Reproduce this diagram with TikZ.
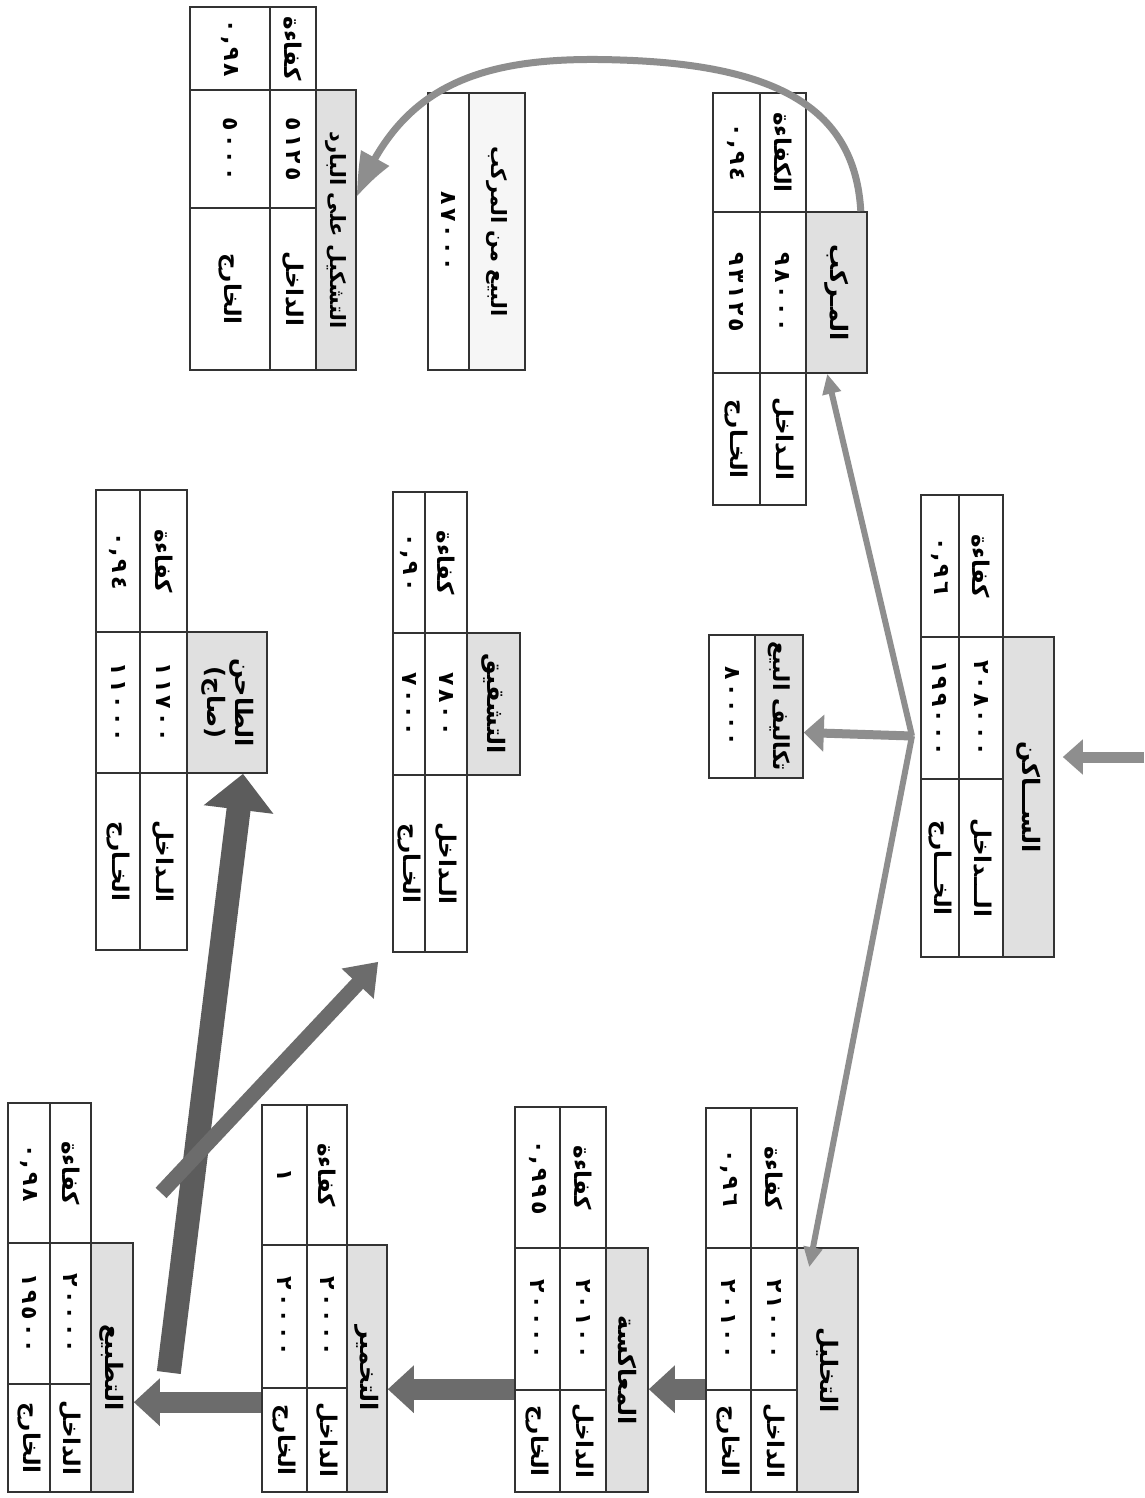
\documentclass[tikz,border=0pt]{standalone}
\usepackage{fontspec}
\usepackage{graphicx}
\usepackage{tikz}
\usetikzlibrary{arrows.meta,bending,positioning,calc,fit}
\TeXXeTstate=1
\newfontfamily\arabicfont[Script=Arabic]{DejaVu Sans}
\newfontfamily\digitfont[LetterSpace=14]{DejaVu Sans}
\definecolor{hdr}{HTML}{E0E0E0}
\definecolor{rule}{HTML}{333333}
\definecolor{pipe}{HTML}{8E8E8E}
\definecolor{pipedark}{HTML}{6C6C6C}
\definecolor{pipedeep}{HTML}{5C5C5C}
\newcommand{\ar}[1]{\arabicfont\bfseries\beginR #1\endR}
\newcommand{\nm}[1]{\digitfont\bfseries #1}
\newcommand{\cell}[7][cell]{\node[#1,fit={(#3,#4)(#5,#6)}] (#2) {\rotatebox{-90}{#7}};}
\tikzset{
  cell/.style={draw=rule,line width=1.6pt,inner sep=0pt,font=\fontsize{23}{27}\selectfont},
  val/.style={cell,font=\fontsize{22}{26}\selectfont},
  head/.style={cell,fill=hdr,font=\fontsize{24}{28}\selectfont},
  headlite/.style={head,fill=hdr!30},
  flow/.style={pipe,line width=6pt,-{Triangle[length=20pt,width=18pt]}},
  flowwide/.style={pipe,line width=9pt,-{Triangle[length=20pt,width=36pt]}},
  feed/.style={pipe,line width=11pt,-{Triangle[length=20pt,width=34pt]}},
  chain/.style={pipedark,line width=21pt,-{Triangle[length=26pt,width=46pt]}},
  thrust/.style={pipedeep,line width=24pt,-{Triangle[length=36pt,width=68pt]}},
  branch/.style={pipedark,line width=15pt,-{Triangle[length=30pt,width=42pt]}},
  loop/.style={pipe,line width=7pt,-{Triangle[length=45pt,width=30pt,bend]}}
}

\begin{document}
\begin{tikzpicture}[x=1pt,y=-1pt]
\path[use as bounding box,fill=white] (0,0) rectangle (1144,1498);

\cell[head]{saken}{1003}{637}{1054}{957}{\ar{الســـاكن}}
\cell{sakenIn}{959}{779}{1003}{957}{\ar{الـــداخل}}
\cell{sakenOut}{921}{779}{959}{957}{\ar{الخـــارج}}
\cell[val]{sakenInV}{959}{637}{1003}{779}{\nm{٢٠٨٠٠٠}}
\cell[val]{sakenOutV}{921}{637}{959}{779}{\nm{١٩٩٠٠٠}}
\cell{sakenEff}{959}{495}{1003}{637}{\ar{كفاءة}}
\cell[val]{sakenEffV}{921}{495}{959}{637}{\nm{٠,٩٦}}

\cell[head]{murakkab}{806}{212}{867}{373}{\ar{المـركب}}
\cell{murakkabIn}{760}{373}{806}{505}{\ar{الـداخل}}
\cell{murakkabOut}{713}{373}{760}{505}{\ar{الخـارج}}
\cell[val]{murakkabInV}{760}{212}{806}{373}{\nm{٩٨٠٠٠}}
\cell[val]{murakkabOutV}{713}{212}{760}{373}{\nm{٩٣١٢٥}}
\cell{murakkabEff}{760}{93}{806}{212}{\ar{الكفاءة}}
\cell[val]{murakkabEffV}{713}{93}{760}{212}{\nm{٠,٩٤}}

\cell[head,font=\fontsize{21}{25}\selectfont]{tashkeel}{316}{90}{356}{370}{\ar{التشكيل على البارد}}
\cell{tashkeelIn}{270}{208}{316}{370}{\ar{الداخل}}
\cell{tashkeelOut}{190}{208}{270}{370}{\ar{الخارج}}
\cell[val]{tashkeelInV}{270}{90}{316}{208}{\nm{٥١٢٥}}
\cell[val]{tashkeelOutV}{190}{90}{270}{208}{\nm{٥٠٠٠}}
\cell{tashkeelEff}{270}{7}{316}{90}{\ar{كفاءة}}
\cell[val]{tashkeelEffV}{190}{7}{270}{90}{\nm{٠,٩٨}}

\cell[headlite,font=\fontsize{21}{25}\selectfont]{sale}{469}{93}{525}{370}{\ar{البيع من المركب}}
\cell[val]{saleV}{428}{93}{469}{370}{\nm{٨٧٠٠٠}}

\cell[head,font=\fontsize{22}{26}\selectfont]{costs}{755}{635}{803}{778}{\ar{تكاليف البيع}}
\cell[val]{costsV}{709}{635}{755}{778}{\nm{٨٠٠٠٠}}

\cell[head]{taheen}{187}{632}{267}{773}{\begin{tabular}{@{}c@{}}\ar{الطاحن}\\\ar{(صاج)}\end{tabular}}
\cell{taheenIn}{140}{773}{187}{950}{\ar{الـداخل}}
\cell{taheenOut}{96}{773}{140}{950}{\ar{الخـارج}}
\cell[val]{taheenInV}{140}{632}{187}{773}{\nm{١١٧٠٠}}
\cell[val]{taheenOutV}{96}{632}{140}{773}{\nm{١١٠٠٠}}
\cell{taheenEff}{140}{490}{187}{632}{\ar{كفاءة}}
\cell[val]{taheenEffV}{96}{490}{140}{632}{\nm{٠,٩٤}}

\cell[head]{tashqeeq}{467}{633}{520}{775}{\ar{التشقيق}}
\cell{tashqeeqIn}{425}{775}{467}{952}{\ar{الـداخل}}
\cell{tashqeeqOut}{393}{775}{425}{952}{\ar{الخـارج}}
\cell[val]{tashqeeqInV}{425}{633}{467}{775}{\nm{٧٨٠٠}}
\cell[val]{tashqeeqOutV}{393}{633}{425}{775}{\nm{٧٠٠٠}}
\cell{tashqeeqEff}{425}{492}{467}{633}{\ar{كفاءة}}
\cell[val]{tashqeeqEffV}{393}{492}{425}{633}{\nm{٠,٩٠}}

\cell[head]{taxleel}{797}{1248}{858}{1492}{\ar{التخليل}}
\cell{taxleelIn}{751}{1390}{797}{1492}{\ar{الداخل}}
\cell{taxleelOut}{706}{1390}{751}{1492}{\ar{الخارج}}
\cell[val]{taxleelInV}{751}{1248}{797}{1390}{\nm{٢١٠٠٠}}
\cell[val]{taxleelOutV}{706}{1248}{751}{1390}{\nm{٢٠١٠٠}}
\cell{taxleelEff}{751}{1108}{797}{1248}{\ar{كفاءة}}
\cell[val]{taxleelEffV}{706}{1108}{751}{1248}{\nm{٠,٩٦}}

\cell[head]{muakasa}{606}{1248}{648}{1492}{\ar{المعاكسة}}
\cell{muakasaIn}{560}{1390}{606}{1492}{\ar{الداخل}}
\cell{muakasaOut}{515}{1390}{560}{1492}{\ar{الخارج}}
\cell[val]{muakasaInV}{560}{1248}{606}{1390}{\nm{٢٠١٠٠}}
\cell[val]{muakasaOutV}{515}{1248}{560}{1390}{\nm{٢٠٠٠٠}}
\cell{muakasaEff}{560}{1107}{606}{1248}{\ar{كفاءة}}
\cell[val]{muakasaEffV}{515}{1107}{560}{1248}{\nm{٠,٩٩٥}}

\cell[head]{taxmeer}{347}{1245}{387}{1492}{\ar{التخمير}}
\cell{taxmeerIn}{307}{1388}{347}{1492}{\ar{الداخل}}
\cell{taxmeerOut}{262}{1388}{307}{1492}{\ar{الخارج}}
\cell[val]{taxmeerInV}{307}{1245}{347}{1388}{\nm{٢٠٠٠٠}}
\cell[val]{taxmeerOutV}{262}{1245}{307}{1388}{\nm{٢٠٠٠٠}}
\cell{taxmeerEff}{307}{1105}{347}{1245}{\ar{كفاءة}}
\cell[val]{taxmeerEffV}{262}{1105}{307}{1245}{\nm{١}}

\cell[head]{tatbee3}{91}{1243}{133}{1492}{\ar{التطبيع}}
\cell{tatbee3In}{50}{1384}{91}{1492}{\ar{الداخل}}
\cell{tatbee3Out}{8}{1384}{50}{1492}{\ar{الخارج}}
\cell[val]{tatbee3InV}{50}{1243}{91}{1384}{\nm{٢٠٠٠٠}}
\cell[val]{tatbee3OutV}{8}{1243}{50}{1384}{\nm{١٩٥٠٠}}
\cell{tatbee3Eff}{50}{1103}{91}{1243}{\ar{كفاءة}}
\cell[val]{tatbee3EffV}{8}{1103}{50}{1243}{\nm{٠,٩٨}}

\coordinate (feedin) at (1144,757);
\coordinate (split) at (912,736);
\draw[feed] (feedin) -- ([shift={(8pt,40pt)}]saken.east);
\draw[flowwide] (split) -- ([yshift=-26pt]costs.east);
\draw[flow] (split) -- ([xshift=22pt]murakkab.south west);
\draw[flow] (split) -- ($(taxleel.north west)+(13,20)$);
\draw[loop] ([xshift=-7pt]murakkab.north east) .. controls (855,110) and (780,65) .. (620,60)
  .. controls (480,55) and (400,85) .. ([yshift=33pt]tashkeel.east);
\draw[chain] (taxleelOut.north west) -- (taxleelOut.north west -| muakasa.east);
\draw[chain] (muakasaOut.north west) -- (muakasaOut.north west -| taxmeer.east);
\draw[chain] ($(taxmeerOut.north west)+(0,15)$) -- ($(taxmeerOut.north west -| tatbee3.east)+(0,15)$);
\draw[thrust] ($(tatbee3.east)+(35,5)$) -- coordinate[pos=0.3] (fork) ([xshift=16pt]taheen.south);
\draw[branch] ($(fork)+(-30,0)$) -- ($(tashqeeqOut.south west)+(-14,9)$);
\end{tikzpicture}
\end{document}
